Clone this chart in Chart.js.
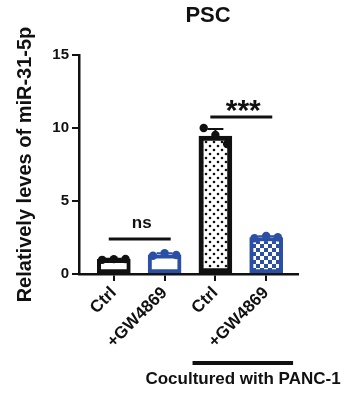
<!DOCTYPE html>
<html>
<head>
<meta charset="utf-8">
<script src="https://cdn.jsdelivr.net/npm/chart.js@4"></script>
<style>
  html, body { margin: 0; padding: 0; background: #fff; }
  #wrap { width: 355px; height: 397px; }
</style>
</head>
<body>
<div id="wrap"><canvas id="chart"></canvas></div>
<script>
// data
const categories = ['Ctrl', '+GW4869', 'Ctrl', '+GW4869'];
const means = [1.0, 1.32, 9.45, 2.5];
const sds = [0.04, 0.1, 0.48, 0.08];
const replicates = [
  [0.97, 1.02, 1.03],
  [1.25, 1.43, 1.3],
  [10.0, 9.52, 8.9],
  [2.45, 2.6, 2.52]
];
const jitter = [-0.23, 0, 0.23];
const yTicks = [0, 5, 10, 15];
const sigPairs = [[0, 1], [2, 3]];
const sigLevels = [2.4, 10.75];
const sigLabels = ['ns', '***'];
const groupLabel = 'Cocultured with PANC-1';

const BLACK = '#111';
const BLUE = '#2a4fa5';
const FONT = 'Liberation Sans, Arial, sans-serif';

function dotPattern() {
  const c = document.createElement('canvas');
  c.width = 8; c.height = 8;
  const g = c.getContext('2d');
  g.fillStyle = '#fff'; g.fillRect(0, 0, 8, 8);
  g.fillStyle = BLACK;
  g.beginPath(); g.arc(2, 2, 1.3, 0, Math.PI * 2); g.fill();
  g.beginPath(); g.arc(6, 6, 1.3, 0, Math.PI * 2); g.fill();
  return g.createPattern(c, 'repeat');
}
function checkPattern() {
  const c = document.createElement('canvas');
  c.width = 8; c.height = 8;
  const g = c.getContext('2d');
  g.fillStyle = '#fff'; g.fillRect(0, 0, 8, 8);
  g.fillStyle = BLUE;
  g.fillRect(0, 0, 4, 4); g.fillRect(4, 4, 4, 4);
  return g.createPattern(c, 'repeat');
}

const edgeColors = [BLACK, BLUE, BLACK, BLUE];

// error bars, significance brackets, title, group label
const extras = {
  id: 'extras',
  afterDatasetsDraw(chart) {
    const { ctx, scales: { x, y } } = chart;
    ctx.save();
    ctx.lineCap = 'butt';
    // error bars (mean + SD)
    means.forEach((m, i) => {
      const px = x.getPixelForValue(i);
      const top = y.getPixelForValue(m + sds[i]);
      const base = y.getPixelForValue(m);
      ctx.strokeStyle = edgeColors[i];
      ctx.lineWidth = 2;
      ctx.beginPath();
      ctx.moveTo(px, base); ctx.lineTo(px, top);
      ctx.moveTo(px - 8, top); ctx.lineTo(px + 8, top);
      ctx.stroke();
    });
    // significance
    ctx.strokeStyle = BLACK;
    ctx.fillStyle = BLACK;
    sigPairs.forEach((p, k) => {
      const x1 = x.getPixelForValue(p[0] - 0.1);
      const x2 = x.getPixelForValue(p[1] + 0.12);
      const py = y.getPixelForValue(sigLevels[k]);
      ctx.lineWidth = 3;
      ctx.beginPath(); ctx.moveTo(x1, py); ctx.lineTo(x2, py); ctx.stroke();
      ctx.textAlign = 'center';
      ctx.textBaseline = 'alphabetic';
      const cx = (x1 + x2) / 2 + 2;
      if (sigLabels[k] === 'ns') {
        ctx.font = 'bold 17px ' + FONT;
        ctx.fillText(sigLabels[k], cx, py - 11);
      } else {
        ctx.font = 'bold 30px ' + FONT;
        ctx.fillText(sigLabels[k], cx, py + 3);
      }
    });
    // title
    ctx.font = 'bold 22px ' + FONT;
    ctx.textAlign = 'center';
    ctx.textBaseline = 'middle';
    ctx.fillText('PSC', 208, 16);
    // group line + label
    const gx1 = x.getPixelForValue(1.55);
    const gx2 = x.getPixelForValue(3.53);
    ctx.lineWidth = 4;
    ctx.beginPath(); ctx.moveTo(gx1, 363); ctx.lineTo(gx2, 363); ctx.stroke();
    ctx.font = 'bold 17px ' + FONT;
    ctx.fillText(groupLabel, 243, 379);
    ctx.restore();
  }
};

const datasets = [{
  type: 'bar',
  data: means.map((v, i) => ({ x: i, y: v })),
  backgroundColor: ['#fff', '#fff', dotPattern(), checkPattern()],
  borderColor: edgeColors,
  borderWidth: [4, 4, 5, 4],
  borderSkipped: false,
  barThickness: 33,
  order: 2
}];
replicates.forEach((vals, i) => {
  datasets.push({
    type: 'scatter',
    data: vals.map((v, j) => ({ x: i + jitter[j], y: v })),
    pointRadius: 4.2,
    pointBackgroundColor: edgeColors[i],
    pointBorderColor: edgeColors[i],
    pointBorderWidth: 0,
    order: 1
  });
});

new Chart(document.getElementById('chart'), {
  type: 'bar',
  data: { datasets },
  options: {
    responsive: true,
    maintainAspectRatio: false,
    animation: false,
    layout: { padding: { top: 55, right: 57, bottom: 0, left: 0 } },
    plugins: { legend: { display: false }, tooltip: { enabled: false }, title: { display: false } },
    scales: {
      x: {
        type: 'linear',
        offset: false,
        min: -0.686,
        max: 3.627,
        afterBuildTicks: s => { s.ticks = categories.map((c, i) => ({ value: i })); },
        afterFit: s => { s.height = 123; },
        ticks: {
          callback: v => categories[v],
          minRotation: 45, maxRotation: 45,
          color: BLACK,
          font: { family: FONT, size: 17, weight: 'bold' },
          padding: 2
        },
        grid: { offset: false, drawOnChartArea: false, drawTicks: true, tickLength: 7, color: BLACK, lineWidth: 2 },
        border: { display: true, color: BLACK, width: 2.5 }
      },
      y: {
        min: 0, max: 15,
        afterBuildTicks: s => { s.ticks = yTicks.map(v => ({ value: v })); },
        afterFit: s => { s.width = 79; },
        ticks: {
          color: BLACK,
          font: { family: FONT, size: 15, weight: 'bold' },
          padding: 3
        },
        title: {
          display: true,
          text: 'Relatively leves of miR-31-5p',
          color: BLACK,
          font: { family: FONT, size: 20, weight: 'bold' },
          padding: { top: 13, bottom: 0 }
        },
        grid: { drawOnChartArea: false, drawTicks: true, tickLength: 7, color: BLACK, lineWidth: 2 },
        border: { display: true, color: BLACK, width: 2.5 }
      }
    }
  },
  plugins: [extras]
});
</script>
</body>
</html>
